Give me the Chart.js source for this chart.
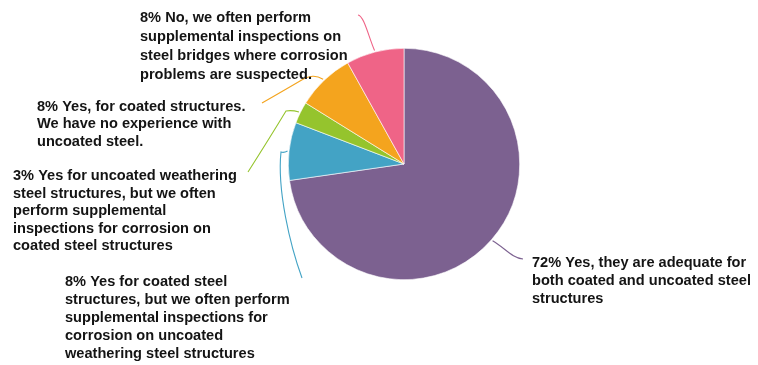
<!DOCTYPE html>
<html>
<head>
<meta charset="utf-8">
<script src="https://cdn.jsdelivr.net/npm/chart.js@4.4.1/dist/chart.umd.min.js"></script>
<style>
  html, body { margin: 0; padding: 0; background: #ffffff; }
  #wrap { width: 758px; height: 365px; position: relative; }
</style>
</head>
<body>
<div id="wrap"><canvas id="c" width="758" height="365"></canvas></div>
<script>
// ---- data ----
const categories = [
  "Yes, they are adequate for both coated and uncoated steel structures",
  "Yes for coated steel structures, but we often perform supplemental inspections for corrosion on uncoated weathering steel structures",
  "Yes for uncoated weathering steel structures, but we often perform supplemental inspections for corrosion on coated steel structures",
  "Yes, for coated structures. We have no experience with uncoated steel.",
  "No, we often perform supplemental inspections on steel bridges where corrosion problems are suspected."
];
const values = [72, 8, 3, 8, 8];
const labelLines = [
  ["72% Yes, they are adequate for", "both coated and uncoated steel", "structures"],
  ["8% Yes for coated steel", "structures, but we often perform", "supplemental inspections for", "corrosion on uncoated", "weathering steel structures"],
  ["3% Yes for uncoated weathering", "steel structures, but we often", "perform supplemental", "inspections for corrosion on", "coated steel structures"],
  ["8% Yes, for coated structures.", "We have no experience with", "uncoated steel."],
  ["8% No, we often perform", "supplemental inspections on", "steel bridges where corrosion", "problems are suspected."]
];

// ---- styles ----
const colors = ["#7c6190", "#43a3c5", "#95c42d", "#f4a41e", "#ef6487"];

// label layout, relative to pie centre (px): text left/first line centre, leader path
const labelLayout = [
  { tx: 128, ty: 99, lh: 18.2,
    path: [["b", 101, 84, 108, 94, 119, 95]] },
  { tx: -339, ty: 117.7, lh: 18,
    path: [["q", -120, -11, -123, -12], ["b", -127, 26, -114, 81, -102, 114]] },
  { tx: -391, ty: 12, lh: 17.6,
    path: [["q", -112, -54, -118, -53], ["q", -135, -25, -156, 8]] },
  { tx: -367, ty: -57.5, lh: 17.7,
    path: [["b", -88, -89, -94, -89, -104, -83], ["q", -121, -73, -142, -61]] },
  { tx: -264, ty: -146, lh: 19,
    path: [["b", -36, -129, -40, -148, -46, -149]] }
];

const labelPlugin = {
  id: 'pieLabels',
  afterDraw(chart) {
    const ctx = chart.ctx;
    const meta = chart.getDatasetMeta(0);
    meta.data.forEach((arc, i) => {
      const p = arc.getProps(['x', 'y', 'startAngle', 'endAngle', 'outerRadius'], true);
      const cx = p.x, cy = p.y;
      const mid = (p.startAngle + p.endAngle) / 2;
      const r = p.outerRadius + 1.5;
      const sx = cx + Math.cos(mid) * r, sy = cy + Math.sin(mid) * r;
      const L = labelLayout[i];
      ctx.save();
      ctx.strokeStyle = colors[i];
      ctx.lineWidth = 1.1;
      ctx.beginPath();
      ctx.moveTo(sx, sy);
      L.path.forEach(seg => {
        if (seg[0] === 'b') ctx.bezierCurveTo(cx + seg[1], cy + seg[2], cx + seg[3], cy + seg[4], cx + seg[5], cy + seg[6]);
        else if (seg[0] === 'q') ctx.quadraticCurveTo(cx + seg[1], cy + seg[2], cx + seg[3], cy + seg[4]);
        else ctx.lineTo(cx + seg[1], cy + seg[2]);
      });
      ctx.stroke();
      ctx.fillStyle = '#141414';
      ctx.font = 'bold 14.6px "Liberation Sans", Arial, sans-serif';
      ctx.textAlign = 'left';
      ctx.textBaseline = 'middle';
      labelLines[i].forEach((line, k) => {
        ctx.fillText(line, cx + L.tx, cy + L.ty + k * L.lh);
      });
      ctx.restore();
    });
  }
};

new Chart(document.getElementById('c'), {
  type: 'pie',
  data: {
    labels: categories,
    datasets: [{
      data: values,
      backgroundColor: colors,
      borderColor: '#ffffff',
      borderWidth: 0.6
    }]
  },
  options: {
    responsive: false,
    animation: false,
    layout: { padding: { top: 48, bottom: 85, left: 288, right: 238 } },
    plugins: { legend: { display: false }, tooltip: { enabled: false } }
  },
  plugins: [labelPlugin]
});
</script>
</body>
</html>
